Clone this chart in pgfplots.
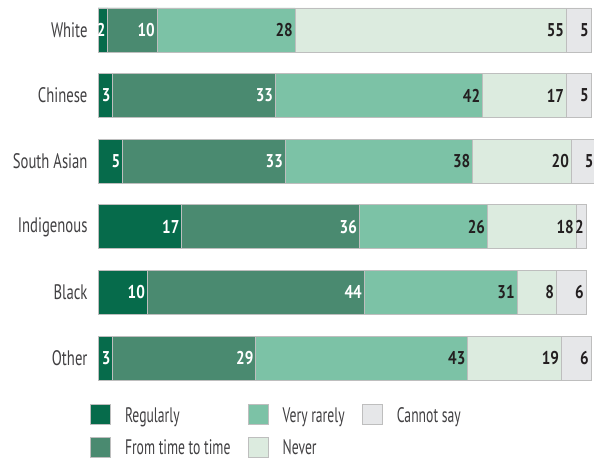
\documentclass[border=0pt]{standalone}
\usepackage{pgfplots}
\pgfplotsset{compat=1.18}
\usepackage{fontspec}
\setmainfont{PT Sans}
\newfontfamily\catfont{PT Sans}[FakeStretch=0.7]
\newfontfamily\legfont{PT Sans}[FakeStretch=0.65]
\newfontfamily\numfont{PT Sans}[FakeStretch=0.82]
\definecolor{c1}{HTML}{066B4B}
\definecolor{c2}{HTML}{4A8A70}
\definecolor{c3}{HTML}{7CC2A6}
\definecolor{c4}{HTML}{DCEBDF}
\definecolor{c5}{HTML}{E6E7E9}
\definecolor{bord}{HTML}{BEBEBE}
\definecolor{txt}{HTML}{231F20}
\definecolor{cat}{HTML}{414042}
\begin{document}
\begin{tikzpicture}
\begin{axis}[
  at={(98pt,0pt)}, anchor=north west,
  scale only axis, width=493pt, height=390.8pt,
  xbar stacked, bar width=44pt,
  xmin=0, xmax=100, ymin=-0.457, ymax=5.5, y dir=reverse,
  clip=false,
  axis line style={draw=none}, xtick=\empty, ytick={0,...,5},
  yticklabels={White,Chinese,South Asian,Indigenous,Black,Other},
  yticklabel style={font=\catfont\fontsize{21}{24}\selectfont, text=cat, xshift=-7pt},
  major tick length=0pt,
  point meta=explicit symbolic,
  nodes near coords,
  every node near coord/.append style={anchor=east, xshift=\pgfplotspointmeta*2.465pt,
     font=\numfont\bfseries\fontsize{18.5}{20}\selectfont, inner sep=2pt},
  legend image code/.code={\draw[#1] (0pt,-8.65pt) rectangle (20pt,11.35pt);},
  legend columns=2, transpose legend,
  legend cell align=left,
  legend style={draw=none, fill=none, at={(axis description cs:-0.0162,-0.034)}, anchor=north west, inner sep=0pt,
    font=\legfont\fontsize{21}{24}\selectfont, text=cat,
    nodes={inner sep=0pt, text height=15pt, text depth=3pt},
    /tikz/every odd column/.append style={column sep=14pt},
    /tikz/every even column/.append style={column sep=17.5pt}, row sep=12pt},
]
\addplot[fill=c1, draw=bord, line width=0.8pt, every node near coord/.append style={text=white}]
  coordinates {(2,0)[2] (3,1)[3] (5,2)[5] (17,3)[17] (10,4)[10] (3,5)[3]};
\addlegendentry{Regularly}
\addplot[fill=c2, draw=bord, line width=0.8pt, every node near coord/.append style={text=white}]
  coordinates {(10,0)[10] (33,1)[33] (33,2)[33] (36,3)[36] (44,4)[44] (29,5)[29]};
\addlegendentry{From time to time}
\addplot[fill=c3, draw=bord, line width=0.8pt, every node near coord/.append style={text=txt}]
  coordinates {(28,0)[28] (42,1)[42] (38,2)[38] (26,3)[26] (31,4)[31] (43,5)[43]};
\addlegendentry{Very rarely}
\addplot[fill=c4, draw=bord, line width=0.8pt, every node near coord/.append style={text=txt}]
  coordinates {(55,0)[55] (17,1)[17] (20,2)[20] (18,3)[18] (8,4)[8] (19,5)[19]};
\addlegendentry{Never}
\addplot[fill=c5, draw=bord, line width=0.8pt, every node near coord/.append style={text=txt}]
  coordinates {(5,0)[5] (5,1)[5] (5,2)[5] (2,3)[2] (6,4)[6] (6,5)[6]};
\addlegendentry{Cannot say}
\end{axis}
\pgfresetboundingbox
\path (0pt,0pt) rectangle (594pt,-461pt);
\end{tikzpicture}
\end{document}
